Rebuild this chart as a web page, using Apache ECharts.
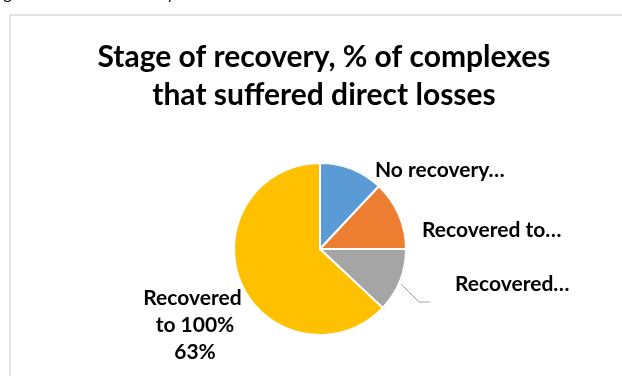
<!DOCTYPE html>
<html>
<head>
<meta charset="utf-8">
<script src="https://cdn.jsdelivr.net/npm/echarts@6/dist/echarts.min.js"></script>
<style>
  html, body { margin: 0; padding: 0; background: #ffffff; }
  #chart { width: 622px; height: 376px; }
</style>
</head>
<body>
<div id="chart"></div>
<script>
// Recovery stages of the complexes and their shares, in percent
const categories = ['No recovery…', 'Recovered to…', 'Recovered…', 'Recovered to 100%'];
const shares = [12, 13, 12, 63];
const sliceColors = ['#5B9BD5', '#ED7D31', '#A5A5A5', '#FFC000'];

const FONT = 'Lato, "Open Sans", sans-serif';

// Where each slice's label sits (x, y, alignment)
const labelSpots = [
  [375, 170, 'left'],
  [422, 230, 'left'],
  [455, 284, 'left'],
  [195, 325, 'center']
];

const chart = echarts.init(document.getElementById('chart'), null, { renderer: 'canvas' });

const option = {
  backgroundColor: '#ffffff',
  animation: false,
  title: {
    text: 'Stage of recovery, % of complexes\nthat suffered direct losses',
    left: 319,
    top: 33,
    textAlign: 'center',
    textStyle: {
      fontFamily: FONT,
      fontWeight: 'bold',
      fontSize: 30,
      lineHeight: 38,
      color: '#000000'
    }
  },
  graphic: [
    {
      type: 'rect',
      shape: { x: 10, y: 15, width: 700, height: 500 },
      style: { fill: 'none', stroke: '#d9d9d9', lineWidth: 1.5 },
      silent: true
    },
    {
      type: 'text',
      x: -10,
      y: -15,
      style: {
        text: 'Figure 6. Hotels\u2019 recovery',
        fontFamily: FONT,
        fontSize: 16.5,
        fill: '#000000'
      },
      silent: true
    }
  ],
  series: [{
    type: 'pie',
    center: [320, 249],
    radius: 86,
    startAngle: 90,
    clockwise: true,
    avoidLabelOverlap: false,
    itemStyle: { borderColor: '#ffffff', borderWidth: 2 },
    label: {
      show: true,
      position: 'outside',
      fontFamily: FONT,
      fontWeight: 'bold',
      fontSize: 21,
      color: '#000000',
      formatter: function (p) {
        return p.dataIndex === 3 ? p.name + '\n' + p.value + '%' : p.name;
      }
    },
    labelLine: {
      show: true,
      lineStyle: { color: '#a6a6a6', width: 1 }
    },
    labelLayout: function (p) {
      const s = labelSpots[p.dataIndex];
      const out = { x: s[0], y: s[1], align: s[2], verticalAlign: 'middle' };
      if (p.dataIndex === 2) {
        out.labelLinePoints = [[401, 284], [419, 302], [430, 302]];
      }
      return out;
    },
    data: categories.map(function (name, i) {
      const item = {
        name: name,
        value: shares[i],
        itemStyle: { color: sliceColors[i] }
      };
      if (i !== 2) item.labelLine = { show: false };
      if (i === 3) item.label = { width: 118, overflow: 'break', lineHeight: 27 };
      return item;
    })
  }]
};

chart.setOption(option);
</script>
</body>
</html>
